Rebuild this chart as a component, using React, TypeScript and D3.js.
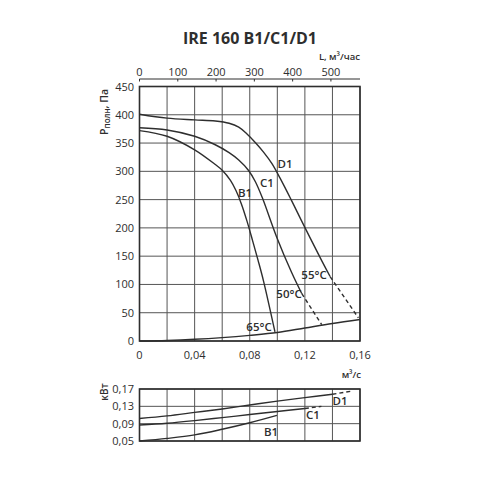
import React from "react";
import * as d3 from "d3";

// ---- data (flow in m³/s, pressure in Pa) ----
const flowB1 = [0, 0.02, 0.04, 0.055, 0.06, 0.066, 0.07, 0.074, 0.078, 0.082, 0.086, 0.09, 0.0983];
const presB1 = [372, 362, 338, 312, 302, 284, 266, 242, 212, 178, 143, 106, 16];

const flowC1 = [0, 0.02, 0.04, 0.055, 0.065, 0.072, 0.079, 0.084, 0.089, 0.0995, 0.1104, 0.1177];
const presC1 = [377, 373, 362, 347, 333, 320, 302, 282, 254, 184, 121, 84];
const flowC1dash = [0.1177, 0.1322];
const presC1dash = [84, 29];

const flowD1 = [0, 0.02, 0.04, 0.055, 0.065, 0.072, 0.078, 0.084, 0.09, 0.096, 0.102, 0.11, 0.1177, 0.1322, 0.1383];
const presD1 = [401, 394, 391, 389, 385, 378, 366, 351, 334, 314, 288, 250, 212, 142, 114];
const flowD1dash = [0.1383, 0.1588];
const presD1dash = [114, 41];

const flow65 = [0, 0.02, 0.04, 0.06, 0.08, 0.1, 0.12, 0.14, 0.16];
const pres65 = [0, 1, 3, 6, 10, 15, 23, 31, 38];

// power (kW)
const pFlowB1 = [0, 0.02, 0.04, 0.06, 0.08, 0.0997];
const powB1 = [0.05, 0.056, 0.064, 0.077, 0.092, 0.109];
const pFlowC1 = [0, 0.02, 0.04, 0.06, 0.08, 0.1, 0.12];
const powC1 = [0.087, 0.091, 0.097, 0.104, 0.111, 0.118, 0.125];
const pFlowC1dash = [0.12, 0.132];
const powC1dash = [0.125, 0.13];
const pFlowD1 = [0, 0.02, 0.04, 0.06, 0.08, 0.1, 0.12, 0.14];
const powD1 = [0.102, 0.108, 0.116, 0.124, 0.133, 0.142, 0.15, 0.158];
const pFlowD1dash = [0.14, 0.154];
const powD1dash = [0.158, 0.165];

const xTicks = [0, 0.04, 0.08, 0.12, 0.16];
const xGrid = [0, 0.02, 0.04, 0.06, 0.08, 0.1, 0.12, 0.14, 0.16];
const yTicks = [0, 50, 100, 150, 200, 250, 300, 350, 400, 450];
const topTicks = [0, 100, 200, 300, 400, 500];
const powTicks = [0.05, 0.09, 0.13, 0.17];

const FONT = "'Open Sans', 'DejaVu Sans', sans-serif";
const INK = "#2e2e2e";

export default function App() {
  const x = d3.scaleLinear().domain([0, 0.16]).range([139.5, 360]);
  const y = d3.scaleLinear().domain([0, 450]).range([341, 86.5]);
  const xTop = d3.scaleLinear().domain([0, 576]).range([139.5, 360]);
  const yP = d3.scaleLinear().domain([0.05, 0.17]).range([441, 389]);

  const curve = d3.curveCatmullRom.alpha(0.5);
  const lineP = (fx: number[], fy: number[]) =>
    d3.line<number>().x((_, i) => x(fx[i])).y((_, i) => y(fy[i])).curve(curve)(fx) || "";
  const linePow = (fx: number[], fy: number[]) =>
    d3.line<number>().x((_, i) => x(fx[i])).y((_, i) => yP(fy[i])).curve(curve)(fx) || "";

  const curveStyle = { fill: "none", stroke: INK, strokeWidth: 1.4 };
  const dashStyle = { fill: "none", stroke: INK, strokeWidth: 1.4, strokeDasharray: "4,3" };
  const label = { fontFamily: FONT, fontSize: 11.5, fill: INK, fontWeight: 600 } as const;
  const tick = { fontFamily: FONT, fontSize: 11, fill: INK } as const;

  return (
    <svg width={480} height={480} style={{ position: "absolute", left: 0, top: 0, background: "#fff" }}>
      {/* Title */}
      <text x={250} y={44} textAnchor="middle" style={{ fontFamily: FONT, fontSize: 16, fontWeight: 700, fill: INK }}>
        IRE 160 B1/C1/D1
      </text>
      <text x={360} y={60} textAnchor="end" style={{ fontFamily: FONT, fontSize: 9.5, fill: INK, fontWeight: 600 }}>
        L, м³/час
      </text>

      {/* top axis */}
      <line x1={xTop(0)} x2={360} y1={79} y2={79} stroke={INK} strokeWidth={1} />
      {topTicks.map((t) => (
        <g key={"tt" + t}>
          <line x1={xTop(t)} x2={xTop(t)} y1={79} y2={81.5} stroke={INK} strokeWidth={1} />
          <text x={xTop(t)} y={76} textAnchor="middle" style={tick}>{t}</text>
        </g>
      ))}

      {/* main grid */}
      {xGrid.map((g) => (
        <line key={"vg" + g} x1={x(g)} x2={x(g)} y1={y(450)} y2={y(0)} stroke="#555" strokeWidth={1} />
      ))}
      {yTicks.map((g) => (
        <line key={"hg" + g} x1={x(0)} x2={x(0.16)} y1={y(g)} y2={y(g)} stroke="#555" strokeWidth={1} />
      ))}
      <rect x={x(0)} y={y(450)} width={x(0.16) - x(0)} height={y(0) - y(450)} fill="none" stroke={INK} strokeWidth={1.6} />

      {yTicks.map((t) => (
        <text key={"yt" + t} x={134} y={y(t) + 4} textAnchor="end" style={tick}>{t}</text>
      ))}
      {xTicks.map((t) => (
        <text key={"xt" + t} x={x(t)} y={359} textAnchor="middle" style={tick}>
          {t === 0 ? "0" : t.toFixed(2).replace(".", ",")}
        </text>
      ))}
      <text x={361} y={378} textAnchor="end" style={{ fontFamily: FONT, fontSize: 9.5, fill: INK, fontWeight: 600 }}>
        м³/с
      </text>

      {/* y label */}
      <text transform="translate(108,89) rotate(-90)" textAnchor="end" style={{ fontFamily: FONT, fontSize: 10.5, fill: INK, fontWeight: 600 }}>
        <tspan>Р</tspan>
        <tspan fontSize={8} dy={2}>полн</tspan>
        <tspan dy={-2}>, Па</tspan>
      </text>

      {/* pressure curves */}
      <path d={lineP(flow65, pres65)} style={curveStyle} />
      <path d={lineP(flowB1, presB1)} style={curveStyle} />
      <path d={lineP(flowC1, presC1)} style={curveStyle} />
      <path d={lineP(flowC1dash, presC1dash)} style={dashStyle} />
      <path d={lineP(flowD1, presD1)} style={curveStyle} />
      <path d={lineP(flowD1dash, presD1dash)} style={dashStyle} />

      <text x={285} y={168} textAnchor="middle" style={label}>D1</text>
      <text x={267} y={187} textAnchor="middle" style={label}>C1</text>
      <text x={245} y={197} textAnchor="middle" style={label}>B1</text>
      <text x={314} y={279} textAnchor="middle" style={label}>55°C</text>
      <text x={289} y={298} textAnchor="middle" style={label}>50°C</text>
      <text x={259} y={331} textAnchor="middle" style={label}>65°C</text>

      {/* power chart */}
      {xGrid.map((g) => (
        <line key={"pvg" + g} x1={x(g)} x2={x(g)} y1={yP(0.17)} y2={yP(0.05)} stroke="#555" strokeWidth={1} />
      ))}
      {powTicks.map((g) => (
        <line key={"phg" + g} x1={x(0)} x2={x(0.16)} y1={yP(g)} y2={yP(g)} stroke="#555" strokeWidth={1} />
      ))}
      <rect x={x(0)} y={yP(0.17)} width={x(0.16) - x(0)} height={yP(0.05) - yP(0.17)} fill="none" stroke={INK} strokeWidth={1.6} />
      {powTicks.map((t) => (
        <text key={"pt" + t} x={134} y={yP(t) + 4} textAnchor="end" style={tick}>
          {t.toFixed(2).replace(".", ",")}
        </text>
      ))}
      <text transform="translate(108,392) rotate(-90)" textAnchor="middle" style={{ fontFamily: FONT, fontSize: 10, fill: INK, fontWeight: 600 }}>
        кВт
      </text>

      <path d={linePow(pFlowB1, powB1)} style={curveStyle} />
      <path d={linePow(pFlowC1, powC1)} style={curveStyle} />
      <path d={linePow(pFlowC1dash, powC1dash)} style={dashStyle} />
      <path d={linePow(pFlowD1, powD1)} style={curveStyle} />
      <path d={linePow(pFlowD1dash, powD1dash)} style={dashStyle} />

      <text x={340} y={405} textAnchor="middle" style={label}>D1</text>
      <text x={313} y={419} textAnchor="middle" style={label}>C1</text>
      <text x={271} y={436} textAnchor="middle" style={label}>B1</text>
    </svg>
  );
}
